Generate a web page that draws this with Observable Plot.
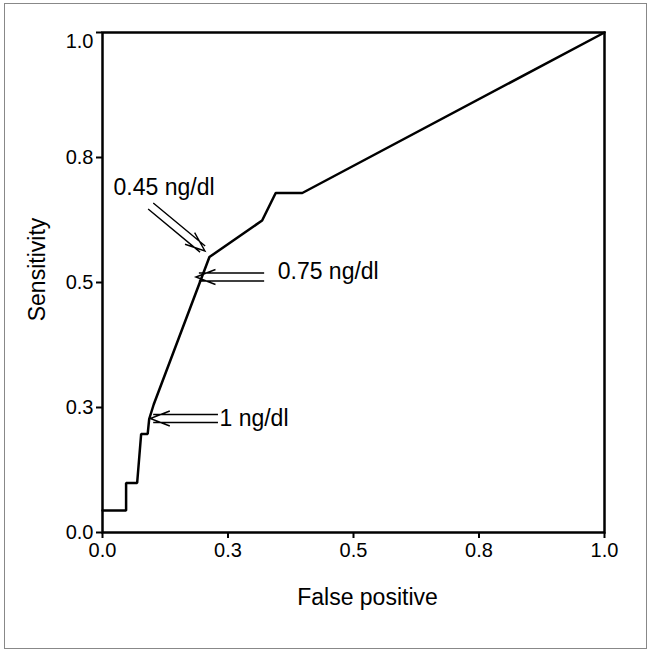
<!DOCTYPE html>
<html>
<head>
<meta charset="utf-8">
<script src="https://cdn.jsdelivr.net/npm/d3@7"></script>
<script src="https://cdn.jsdelivr.net/npm/@observablehq/plot@0.6"></script>
<style>
  html, body { margin: 0; padding: 0; background: #fff; }
  #wrap { position: relative; width: 651px; height: 652px; }
  #border { position: absolute; left: 4px; top: 3px; width: 641px; height: 644px; border: 1px solid #888; }
  #chart { position: absolute; left: 0; top: 0; }
</style>
</head>
<body>
<div id="wrap"><div id="border"></div><div id="chart"></div></div>
<script>
// ROC curve points
const falsePositive = [0, 0.047, 0.047, 0.069, 0.077, 0.090, 0.093, 0.102, 0.213, 0.318, 0.345, 0.398, 1];
const sensitivity   = [0.044, 0.044, 0.099, 0.099, 0.197, 0.197, 0.227, 0.256, 0.551, 0.624, 0.679, 0.679, 1];

// cut-off annotations
const cutoffLabels = ["0.45 ng/dl", "0.75 ng/dl", "1 ng/dl"];
const arrowTipX  = [0.205, 0.187, 0.096];
const arrowTipY  = [0.562, 0.510, 0.227];
const arrowTailX = [0.097, 0.323, 0.231];
const arrowTailY = [0.652, 0.510, 0.227];
const labelX = [0.022, 0.349, 0.233];
const labelY = [0.690, 0.522, 0.228];

// axis ticks
const tickValues = [0, 0.25, 0.5, 0.75, 1];
const tickLabels = ["0.0", "0.3", "0.5", "0.8", "1.0"];

const xTitle = "False positive";
const yTitle = "Sensitivity";

const curve = falsePositive.map((x, i) => ({x, y: sensitivity[i]}));
const notes = cutoffLabels.map((label, i) => ({
  label, tx: arrowTipX[i], ty: arrowTipY[i], sx: arrowTailX[i], sy: arrowTailY[i], lx: labelX[i], ly: labelY[i]
}));
const labelOf = d => tickLabels[tickValues.indexOf(d)];

const FONT = "Liberation Sans, Arial, Helvetica, sans-serif";
const TICK_FS = 20, TEXT_FS = 23;

function doubleArrows(index, scales) {
  const ns = "http://www.w3.org/2000/svg";
  const g = document.createElementNS(ns, "g");
  g.setAttribute("fill", "none");
  g.setAttribute("stroke", "black");
  g.setAttribute("stroke-width", "1.4");
  const gap = 4, armLen = 21, ang = 21 * Math.PI / 180;
  for (const d of notes) {
    const tx = scales.x(d.tx), ty = scales.y(d.ty);
    const sx = scales.x(d.sx), sy = scales.y(d.sy);
    const len = Math.hypot(tx - sx, ty - sy);
    const ux = (tx - sx) / len, uy = (ty - sy) / len;
    const nx = -uy, ny = ux;
    const ex = tx - ux * 3, ey = ty - uy * 3;
    let p = "";
    for (const s of [-1, 1]) {
      p += `M${sx + s * nx * gap},${sy + s * ny * gap}L${ex + s * nx * gap},${ey + s * ny * gap}`;
    }
    const c = Math.cos(ang) * armLen, sn = Math.sin(ang) * armLen;
    p += `M${tx - ux * c + nx * sn},${ty - uy * c + ny * sn}L${tx},${ty}L${tx - ux * c - nx * sn},${ty - uy * c - ny * sn}`;
    const path = document.createElementNS(ns, "path");
    path.setAttribute("d", p);
    g.appendChild(path);
  }
  return g;
}

const plot = Plot.plot({
  width: 651,
  height: 652,
  marginLeft: 102,
  marginRight: 47,
  marginTop: 32,
  marginBottom: 120,
  style: {fontFamily: FONT, fontSize: TICK_FS + "px", color: "black", background: "transparent"},
  x: {domain: [0, 1]},
  y: {domain: [0, 1]},
  marks: [
    Plot.axisX({ticks: tickValues, tickFormat: labelOf, tickSize: 6, tickPadding: 4, strokeWidth: 2, label: null, fontSize: TICK_FS}),
    Plot.axisY({ticks: tickValues, tickSize: 6, tickFormat: null, text: null, strokeWidth: 2, label: null}),
    Plot.axisY({ticks: tickValues.slice(0, -1), tickFormat: labelOf, tickSize: 0, tickPadding: 9, label: null, fontSize: TICK_FS}),
    Plot.axisY({ticks: tickValues.slice(-1), tickFormat: labelOf, tickSize: 0, tickPadding: 9, dy: 9, label: null, fontSize: TICK_FS}),
    Plot.frame({stroke: "black", strokeWidth: 2.5}),
    Plot.line(curve, {x: "x", y: "y", stroke: "black", strokeWidth: 2.5, strokeLinejoin: "miter"}),
    doubleArrows,
    Plot.text(notes, {x: "lx", y: "ly", text: "label", textAnchor: "start", fontSize: TEXT_FS, fill: "black"}),
    Plot.text([xTitle], {frameAnchor: "bottom", dy: 65, dx: 14, lineAnchor: "middle", textAnchor: "middle", fontSize: TEXT_FS, fill: "black"}),
    Plot.text([yTitle], {frameAnchor: "left", dx: -65, dy: -13, rotate: -90, lineAnchor: "middle", textAnchor: "middle", fontSize: TEXT_FS, fill: "black"})
  ]
});
document.getElementById("chart").appendChild(plot);
</script>
</body>
</html>
